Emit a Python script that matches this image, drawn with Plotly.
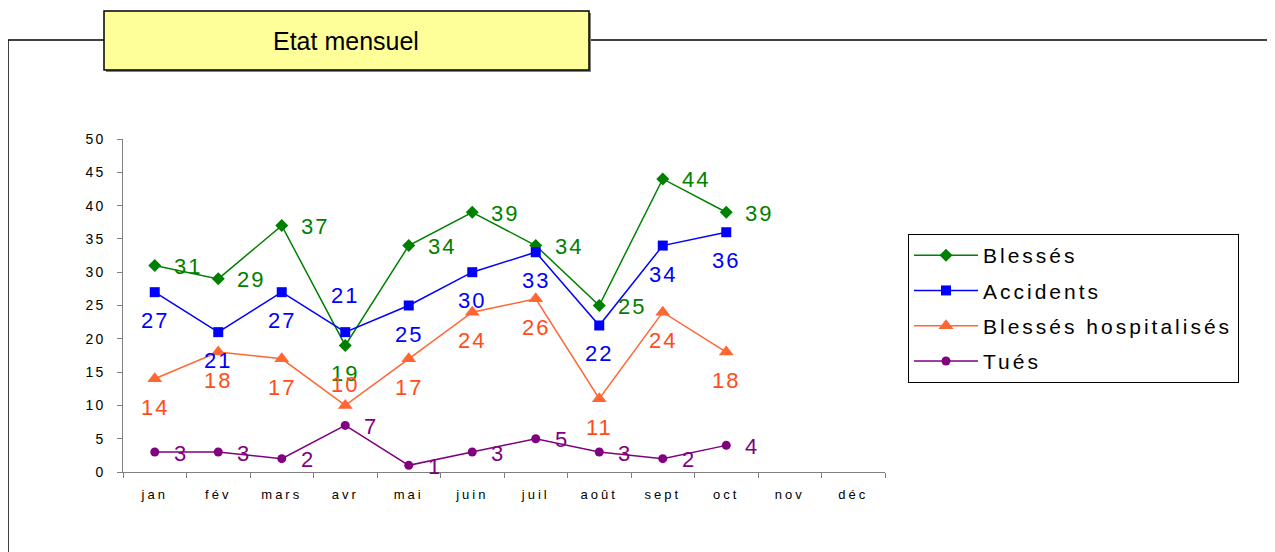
import plotly.graph_objects as go

months = ["jan", "fév", "mars", "avr", "mai", "juin", "juil", "août", "sept", "oct", "nov", "déc"]
blesses = [31, 29, 37, 19, 34, 39, 34, 25, 44, 39]
accidents = [27, 21, 27, 21, 25, 30, 33, 22, 34, 36]
hospitalises = [14, 18, 17, 10, 17, 24, 26, 11, 24, 18]
tues = [3, 3, 2, 7, 1, 3, 5, 3, 2, 4]
yticks = [0, 5, 10, 15, 20, 25, 30, 35, 40, 45, 50]

# label placement per point: 'r' right, 'b' below, 'a' above
pos_blesses = ["r", "r", "r", "b", "r", "r", "r", "r", "r", "r"]
pos_accidents = ["b", "b", "b", "a", "b", "b", "b", "b", "b", "b"]
pos_hosp = ["b", "b", "b", "a", "b", "b", "b", "b", "b", "b"]
pos_tues = ["r"] * 10

OFF = 8  # page body margin
W, H = 1275, 552
L, R, T, B = 123, 885, 139, 472  # plot area in screen pixels


def px(x):
    return (x - L) / (R - L)


def py(y):
    return (B - y) / (B - T)


def spaced(s, ls=3):
    return '<span style="letter-spacing:%spx">%s</span>' % (ls, s)


FONT = "Liberation Sans, Arial"

series = [
    ("Blessés", blesses, pos_blesses, "#008000", "#008000", "diamond", 10, 22),
    ("Accidents", accidents, pos_accidents, "#0000FF", "#0000FF", "square", 10, 22),
    ("Blessés hospitalisés", hospitalises, pos_hosp, "#FF6633", "#FF4C1A", "triangle-up", 13, 6),
    ("Tués", tues, pos_tues, "#800080", "#800080", "circle", 9, 10),
]

fig = go.Figure()
annotations = []
for i, (name, vals, poss, col, tcol, sym, ms, above) in enumerate(series):
    xs = months[:len(vals)]
    fig.add_trace(go.Scatter(
        x=xs, y=vals, name=spaced(name, 3), mode="lines+markers",
        legendgroup="g%d" % i,
        line=dict(color=col, width=1.5),
        marker=dict(symbol=sym, size=ms, color=col),
        cliponaxis=False,
    ))
    for x, v, p in zip(xs, vals, poss):
        a = dict(x=x, y=v, xref="x", yref="y", text=spaced(str(v), 2), showarrow=False,
                 font=dict(family=FONT, size=22, color=tcol))
        if p == "r":
            a.update(xanchor="left", yanchor="middle", xshift=17, yshift=-1)
        elif p == "b":
            a.update(xanchor="center", yanchor="top", yshift=-14)
        else:
            a.update(xanchor="center", yanchor="bottom", yshift=above)
        annotations.append(a)

# title
annotations.append(dict(x=px(346), y=py(41), xref="paper", yref="paper", text="Etat mensuel",
                        showarrow=False, xanchor="center", yanchor="middle",
                        font=dict(family=FONT, size=25, color="black")))

shapes = [
    # outer frame
    dict(type="line", xref="paper", yref="paper", x0=px(8), x1=px(1300), y0=py(40), y1=py(40),
         line=dict(color="black", width=1.5)),
    dict(type="line", xref="paper", yref="paper", x0=px(8), x1=px(8), y0=py(40), y1=py(580),
         line=dict(color="black", width=1.5)),
    # title box shadow
    dict(type="rect", xref="paper", yref="paper", x0=px(106), x1=px(591), y0=py(13), y1=py(72),
         fillcolor="#808080", line=dict(width=0)),
    # title box
    dict(type="rect", xref="paper", yref="paper", x0=px(104), x1=px(589), y0=py(11), y1=py(70),
         fillcolor="#FFFF99", line=dict(color="black", width=1.5)),
]

fig.update_layout(
    width=W, height=H,
    margin=dict(l=L - OFF, r=W - R + OFF, t=T - OFF, b=H - B + OFF, autoexpand=False),
    paper_bgcolor="white", plot_bgcolor="white",
    font=dict(family=FONT, color="black"),
    showlegend=True,
    legend=dict(x=px(908), y=py(234), xanchor="left", yanchor="top",
                bordercolor="black", borderwidth=1, bgcolor="white",
                font=dict(size=21, color="black"), itemwidth=64,
                traceorder="grouped", tracegroupgap=5),
    xaxis=dict(categoryorder="array", categoryarray=months, tickmode="array", tickvals=months,
               ticktext=[spaced(m, 3) for m in months],
               range=[-0.5, 11.5], showline=True, linecolor="#808080", linewidth=1,
               ticks="outside", tickson="boundaries", ticklen=5, tickcolor="#808080",
               ticklabelstandoff=10,
               tickfont=dict(size=13, color="black"), showgrid=False, zeroline=False),
    yaxis=dict(range=[0, 50], tickmode="array", tickvals=yticks,
               ticktext=[spaced(str(v), 2) for v in yticks], showline=True, linecolor="#808080",
               linewidth=1, ticks="outside", ticklen=5, tickcolor="#808080",
               ticklabelstandoff=9,
               tickfont=dict(size=14, color="black"), showgrid=False, zeroline=False),
    annotations=annotations,
    shapes=shapes,
)

fig.write_html("out.html")
